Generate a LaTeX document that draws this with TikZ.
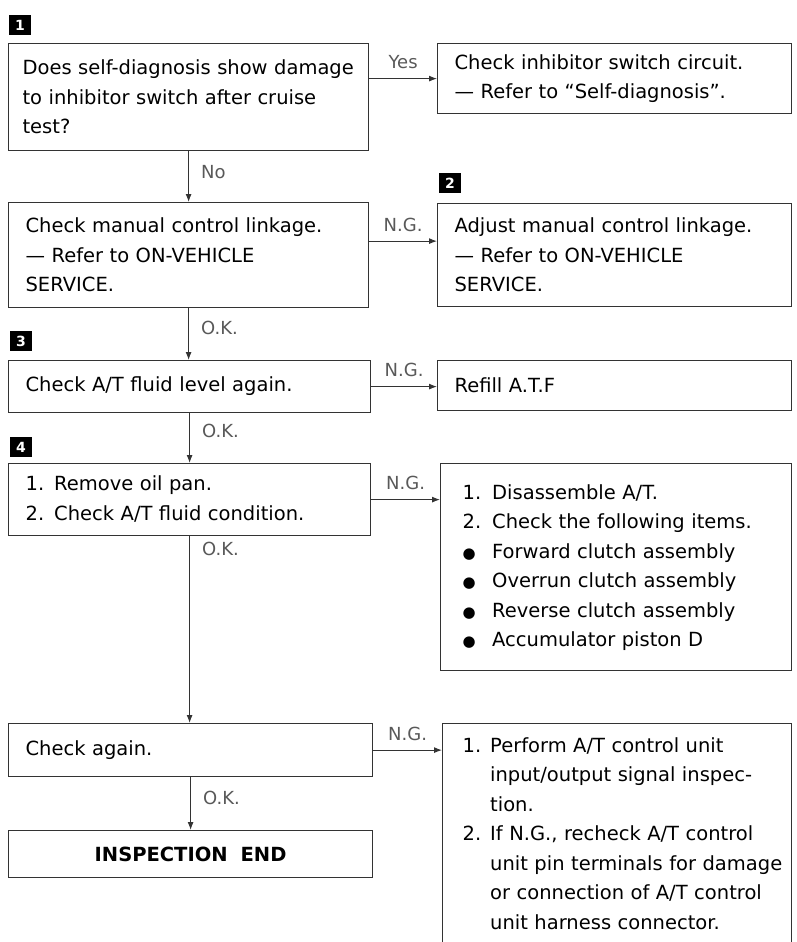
\documentclass[tikz,border=0pt]{standalone}
\usepackage{fontspec}
\setmainfont{DejaVu Sans}
\usetikzlibrary{arrows.meta}

\begin{document}
\begin{tikzpicture}[x=1pt, y=-1pt,
    box/.style={draw=black!80, line width=1.2pt, anchor=north west, inner xsep=17pt, inner ysep=0pt,
        align=left, font=\fontsize{19.5}{29.5}\selectfont},
    lbl/.style={text=black!65, font=\fontsize{18}{20}\selectfont, inner sep=2pt},
    stepno/.style={fill=black, text=white, font=\bfseries\fontsize{14}{14}\selectfont,
        minimum width=22pt, minimum height=20pt, inner sep=0pt},
    flow/.style={draw=black!80, line width=1pt, -{Latex[length=8pt,width=6pt]}}
]
    % Define bullet
    \newcommand{\dotitem}{{\fontsize{15}{15}\selectfont ●}}

    % Fix page size
    \useasboundingbox (0,0) rectangle (796,942);
    \clip (0,0) rectangle (796,942);

    % Step numbers
    \node[stepno] (n1) at (20,25) {1};
    \node[stepno] (n2) at (450,183) {2};
    \node[stepno] (n3) at (21,341) {3};
    \node[stepno] (n4) at (21,447) {4};

    % Left column
    \node[box, minimum width=360pt, text width=332pt, inner xsep=14pt, minimum height=107pt] (diag) at (8,43)
        {Does self-diagnosis show damage\\ to inhibitor switch after cruise\\ test?};
    \node[box, minimum width=360pt, text width=326pt, minimum height=105pt] (link) at (8,202)
        {Check manual control linkage.\\ — Refer to ON-VEHICLE\\ SERVICE.};
    \node[box, minimum width=362pt, text width=328pt, minimum height=52pt] (level) at (8,360)
        {Check A/T fluid level again.};
    \node[box, minimum width=362pt, text width=328pt, minimum height=72pt] (oilpan) at (8,463)
        {\begin{tabular}{@{}l@{\hspace{10pt}}l@{}}
            1. & Remove oil pan.\\
            2. & Check A/T fluid condition.
        \end{tabular}};
    \node[box, minimum width=364pt, text width=330pt, minimum height=53pt] (again) at (8,723)
        {Check again.};
    \node[box, minimum width=364pt, text width=330pt, minimum height=47pt, align=center,
        font=\bfseries\fontsize{19.5}{29.5}\selectfont] (finish) at (8,830)
        {INSPECTION\ \ END};

    % Right column
    \node[box, minimum width=354pt, text width=320pt, minimum height=70pt] (inhib) at (437,43)
        {Check inhibitor switch circuit.\\ — Refer to “Self-diagnosis”.};
    \node[box, minimum width=354pt, text width=320pt, minimum height=103pt] (adjust) at (437,203)
        {Adjust manual control linkage.\\ — Refer to ON-VEHICLE\\ SERVICE.};
    \node[box, minimum width=354pt, text width=320pt, minimum height=50pt] (refill) at (437,360)
        {Refill A.T.F};
    \node[box, minimum width=351pt, text width=307pt, inner xsep=22pt, minimum height=207pt] (disasm) at (440,463)
        {\begin{tabular}{@{}l@{\hspace{11pt}}l@{}}
            1. & Disassemble A/T.\\
            2. & Check the following items.\\
            \dotitem & Forward clutch assembly\\
            \dotitem & Overrun clutch assembly\\
            \dotitem & Reverse clutch assembly\\
            \dotitem & Accumulator piston D
        \end{tabular}};
    \node[box, minimum width=349pt, text width=309pt, inner xsep=20pt, minimum height=222pt] (perform) at (442,723)
        {\begin{tabular}{@{}l@{\hspace{9pt}}l@{}}
            1. & Perform A/T control unit\\
               & input/output signal inspec-\\
               & tion.\\
            2. & If N.G., recheck A/T control\\
               & unit pin terminals for damage\\
               & or connection of A/T control\\
               & unit harness connector.
        \end{tabular}};

    % Main line
    \draw[flow] (diag.south) -- node[lbl, right=10pt, pos=0.42] (lno) {No} (diag.south |- link.north);
    \draw[flow] (link.south) -- node[lbl, right=10pt, pos=0.38] (lok1) {O.K.} (link.south |- level.north);
    \draw[flow] (level.south) -- node[lbl, right=10pt, pos=0.35] (lok2) {O.K.} (level.south |- oilpan.north);
    \draw[flow] (oilpan.south) -- node[lbl, right=10pt, pos=0.07] (lok3) {O.K.} (oilpan.south |- again.north);
    \draw[flow] (again.south) -- node[lbl, right=10pt, pos=0.4] (lok4) {O.K.} (again.south |- finish.north);

    % Branches
    \draw[flow] (inhib.west -| diag.east) -- node[lbl, above=7pt] (lyes) {Yes} (inhib.west);
    \draw[flow] ([yshift=14pt]link.east) -- node[lbl, above=7pt] (lng1) {N.G.} ([yshift=14pt]link.east -| adjust.west);
    \draw[flow] (level.east) -- node[lbl, above=7pt] (lng2) {N.G.} (level.east -| refill.west);
    \draw[flow] (oilpan.east) -- node[lbl, above=7pt] (lng3) {N.G.} (oilpan.east -| disasm.west);
    \draw[flow] (again.east) -- node[lbl, above=7pt] (lng4) {N.G.} (again.east -| perform.west);

\end{tikzpicture}
\end{document}
